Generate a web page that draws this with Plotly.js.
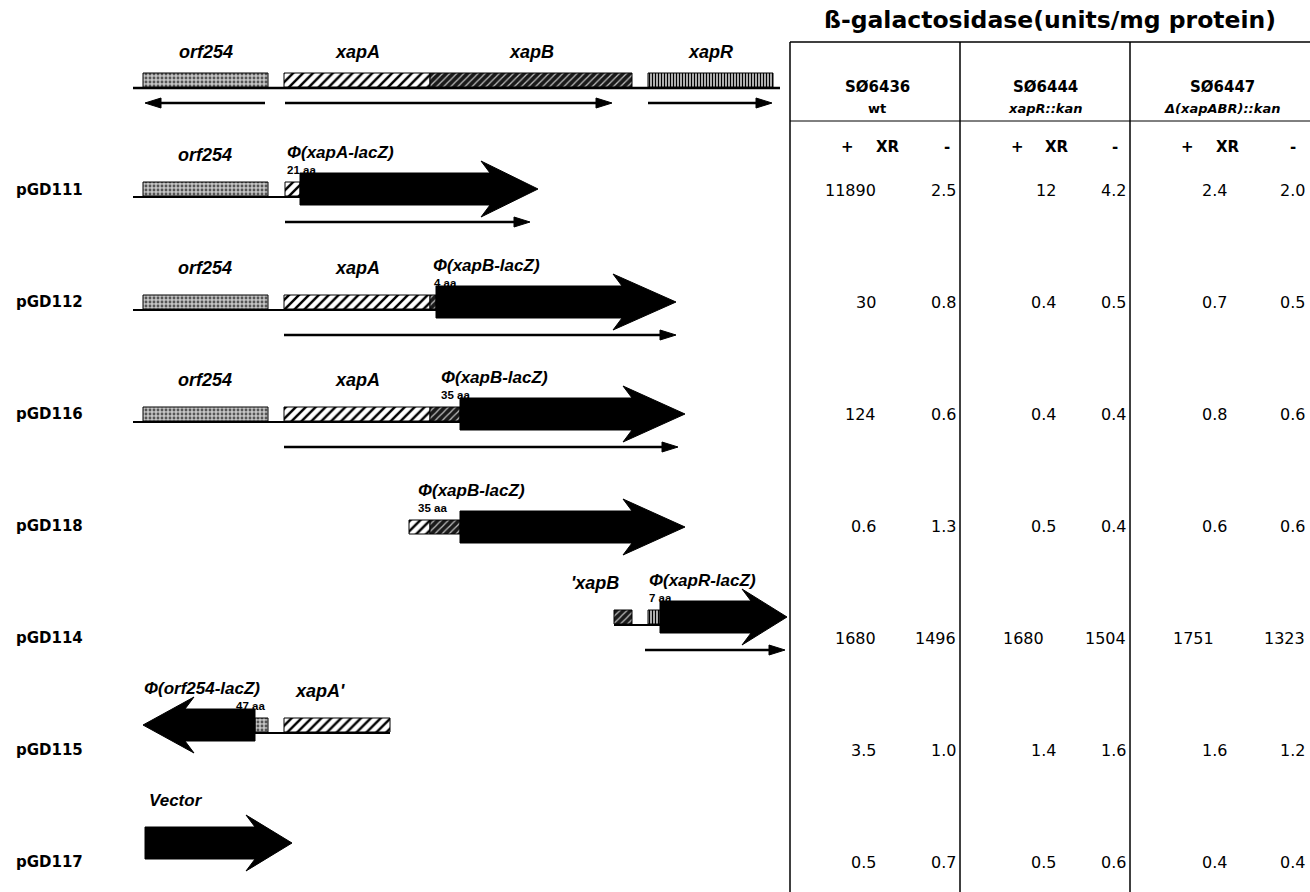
<!DOCTYPE html>
<html><head><meta charset="utf-8">
<script src="https://cdn.plot.ly/plotly-3.0.1.min.js"></script>
<style>html,body{margin:0;padding:0;background:#fff}#chart{width:1310px;height:892px}</style>
</head><body><div id="chart"></div>
<script>
// ---------------- data ----------------
// chromosomal map (map units along the drawing's x scale)
const mapGenes = ['orf254', 'xapA', 'xapB', 'xapR'];
const mapStart = [143, 284, 430, 648];
const mapEnd   = [268, 430, 632, 773];
const mapExtent = [133, 780];
const mapTranscriptFrom = [265, 285, 648];
const mapTranscriptTo   = [145, 612, 772];

// constructs
const constructs = ['pGD111', 'pGD112', 'pGD116', 'pGD118', 'pGD114', 'pGD115', 'pGD117'];
const fusionLabels = ['Φ(xapA-lacZ)', 'Φ(xapB-lacZ)', 'Φ(xapB-lacZ)', 'Φ(xapB-lacZ)', 'Φ(xapR-lacZ)', 'Φ(orf254-lacZ)', 'Vector'];
const fusionLengths = ['21 aa', '4 aa', '35 aa', '35 aa', '7 aa', '47 aa', ''];
const constructLineFrom = [133, 133, 133, null, 614, 255, null];
const constructLineTo   = [300, 436, 460, null, 660, 390, null];
const constructBoxGene  = [['orf254', 'xapA'], ['orf254', 'xapA', 'xapB'], ['orf254', 'xapA', 'xapB'], ['xapA', 'xapB'], ['xapB', 'xapR'], ['orf254', 'xapA'], []];
const constructBoxFrom  = [[143, 285], [143, 284, 430], [143, 284, 430], [409, 430], [614, 648], [255, 284], []];
const constructBoxTo    = [[268, 300], [268, 430, 436], [268, 430, 460], [430, 460], [632, 660], [268, 390], []];
const fusionFrom = [300, 436, 460, 460, 660, 255, 145];
const fusionTo   = [538, 676, 685, 685, 787, 143, 292];
const transcriptFrom = [285, 284, 284, null, 645, null, null];
const transcriptTo   = [530, 676, 678, null, 785, null, null];
const geneLabelText = [['orf254'], ['orf254', 'xapA'], ['orf254', 'xapA'], [], ["'xapB"], ["xapA'"], []];
const geneLabelAt   = [[205], [205, 357], [205, 357], [], [595], [320], []];

// beta-galactosidase table
const tableTitle = 'ß-galactosidase(units/mg protein)';
const strains = ['SØ6436', 'SØ6444', 'SØ6447'];
const genotypes = ['wt', 'xapR::kan', 'Δ(xapABR)::kan'];
const conditions = ['+', 'XR', '-'];
const wtPlus    = ['11890', '30', '124', '0.6', '1680', '3.5', '0.5'];
const wtMinus   = ['2.5', '0.8', '0.6', '1.3', '1496', '1.0', '0.7'];
const xapRPlus  = ['12', '0.4', '0.4', '0.5', '1680', '1.4', '0.5'];
const xapRMinus = ['4.2', '0.5', '0.4', '0.4', '1504', '1.6', '0.6'];
const delPlus   = ['2.4', '0.7', '0.8', '0.6', '1751', '1.6', '0.4'];
const delMinus  = ['2.0', '0.5', '0.6', '0.6', '1323', '1.2', '0.4'];

// ---------------- layout / style config ----------------
const W = 1310, H = 892;
const mapCy = 80;
const rowCy = [189, 302, 414, 527, 617, 725, 843];
const headLen = [48, 54, 53, 53, 36, 42, 37];
const rowLabelY = constructs.map((_, i) => 190 + 112 * i);
const boxHalf = 7, bodyHalf = 16, headHalf = 28, barb = 9;
const tHead = 16, tHalf = 5;
const fusionLabelX = [286, 432, 440, 417, 648, 143, 148];
const aaLabelX     = [286, 433, 440, 417, 648, 235, null];
const labelGap = [-26, -26, -26, -26, -26, -26, -32];

const geneStyle = {
  orf254: {shape: '.', bgcolor: '#c4c4c4', fgcolor: '#555', size: 4, solidity: 0.4},
  xapA:   {shape: '/', bgcolor: '#ffffff', fgcolor: '#000', size: 7, solidity: 0.35},
  xapB:   {shape: '/', bgcolor: '#1a1a1a', fgcolor: '#bdbdbd', size: 5, solidity: 0.25},
  xapR:   {shape: '|', bgcolor: '#ffffff', fgcolor: '#000', size: 3, solidity: 0.55}
};

const LBL = 'Liberation Sans, Arial, sans-serif';
const TBL = 'DejaVu Sans, Verdana, sans-serif';

const traces = [];
const annotations = [];
const shapes = [];

function hline(x0, x1, y, w) {
  traces.push({x: [x0, x1], y: [y, y], mode: 'lines', line: {color: '#000', width: w || 2}, hoverinfo: 'skip', showlegend: false});
}
function box(gene, x0, x1, cy) {
  const y0 = cy - boxHalf, y1 = cy + boxHalf;
  traces.push({x: [x0, x1, x1, x0, x0], y: [y0, y0, y1, y1, y0], mode: 'lines', fill: 'toself',
    fillcolor: geneStyle[gene].bgcolor, fillpattern: geneStyle[gene],
    line: {color: '#000', width: 1}, hoverinfo: 'skip', showlegend: false});
}
function bigArrow(x0, x1, cy, hl) {
  const d = x1 > x0 ? 1 : -1;
  const xh = x1 - d * hl;
  const xs = [x0, xh, xh - d * barb, x1, xh - d * barb, xh, x0, x0];
  const ys = [cy - bodyHalf, cy - bodyHalf, cy - headHalf, cy, cy + headHalf, cy + bodyHalf, cy + bodyHalf, cy - bodyHalf];
  traces.push({x: xs, y: ys, mode: 'lines', fill: 'toself', fillcolor: '#000',
    line: {color: '#000', width: 1}, hoverinfo: 'skip', showlegend: false});
}
function thinArrow(x0, x1, y) {
  const d = x1 > x0 ? 1 : -1;
  const xb = x1 - d * tHead;
  hline(x0, xb + d * 2, y, 2.5);
  traces.push({x: [xb, x1, xb, xb], y: [y - tHalf, y, y + tHalf, y - tHalf], mode: 'lines', fill: 'toself',
    fillcolor: '#000', line: {color: '#000', width: 1}, hoverinfo: 'skip', showlegend: false});
}
function text(t, x, y, size, font, xanchor, yanchor) {
  annotations.push({text: t, x: x, y: y, xref: 'x', yref: 'y', showarrow: false, borderpad: 0,
    xanchor: xanchor || 'center', yanchor: yanchor || 'middle', font: {family: font, size: size, color: '#000'}});
}

// ---- chromosomal map ----
hline(mapExtent[0], mapExtent[1], mapCy + boxHalf + 1, 2.5);
mapGenes.forEach((g, i) => {
  box(g, mapStart[i], mapEnd[i], mapCy);
  text('<b><i>' + g + '</i></b>', (mapStart[i] + mapEnd[i]) / 2, mapCy - 28, 18, LBL);
});
mapTranscriptFrom.forEach((x0, i) => thinArrow(x0, mapTranscriptTo[i], mapCy + 23));

// ---- constructs ----
constructs.forEach((c, i) => {
  const cy = rowCy[i];
  if (constructLineFrom[i] !== null) hline(constructLineFrom[i], constructLineTo[i], cy + boxHalf + 1);
  constructBoxGene[i].forEach((g, j) => box(g, constructBoxFrom[i][j], constructBoxTo[i][j], cy));
  bigArrow(fusionFrom[i], fusionTo[i], cy, headLen[i]);
  if (transcriptFrom[i] !== null) thinArrow(transcriptFrom[i], transcriptTo[i], cy + 33);
  geneLabelText[i].forEach((t, j) => text('<b><i>' + t + '</i></b>', geneLabelAt[i][j], cy - 34, 18, LBL));
  text('<b><i>' + fusionLabels[i] + '</i></b>', fusionLabelX[i], cy + labelGap[i], 17, LBL, 'left', 'bottom');
  if (fusionLengths[i]) text('<b>' + fusionLengths[i] + '</b>', aaLabelX[i], cy + labelGap[i], 11.5, LBL, 'left', 'top');
  text('<b>' + c + '</b>', 15, rowLabelY[i], 15, TBL, 'left');
});

// ---- table ----
const tLeft = 790, tTop = 42, colLines = [960, 1130], hdrLine = 121;
const lineStyle = {color: '#000', width: 1.5};
shapes.push({type: 'line', xref: 'x', yref: 'y', x0: tLeft, x1: W, y0: tTop, y1: tTop, line: lineStyle});
shapes.push({type: 'line', xref: 'x', yref: 'y', x0: tLeft, x1: W, y0: hdrLine, y1: hdrLine, line: {color: '#000', width: 1}});
[tLeft].concat(colLines).forEach(x => shapes.push({type: 'line', xref: 'x', yref: 'y', x0: x, x1: x, y0: tTop, y1: H, line: lineStyle}));
text('<b>' + tableTitle + '</b>', 1050, 20, 23.5, TBL);

const strainX = [877, 1045, 1222];
const condX = [[847, 888, 947], [1017, 1057, 1115], [1187, 1228, 1293]];
const plusRight = [877, 1057, 1228];
const minusRight = [957, 1127, 1306];
const bigShift = [0, 12, 13];
const plusCols = [wtPlus, xapRPlus, delPlus];
const minusCols = [wtMinus, xapRMinus, delMinus];
strains.forEach((s, k) => {
  text('<b>' + s + '</b>', strainX[k], 87, 15, TBL);
  text(k === 0 ? '<b>' + genotypes[k] + '</b>' : '<b><i>' + genotypes[k] + '</i></b>', strainX[k], 108, 13, TBL);
  conditions.forEach((cnd, m) => text('<b>' + cnd + '</b>', condX[k][m], 147, 15, TBL));
  constructs.forEach((_, i) => {
    const pv = plusCols[k][i];
    const shift = parseFloat(pv) >= 1000 ? bigShift[k] : 0;
    text(pv, plusRight[k] - shift, rowLabelY[i], 16, TBL, 'right');
    text(minusCols[k][i], minusRight[k], rowLabelY[i], 16, TBL, 'right');
  });
});

const layout = {
  width: W, height: H, margin: {l: 0, r: 0, t: 0, b: 0},
  paper_bgcolor: '#fff', plot_bgcolor: '#fff', showlegend: false,
  xaxis: {range: [0, W], visible: false, fixedrange: true},
  yaxis: {range: [H, 0], visible: false, fixedrange: true},
  annotations: annotations, shapes: shapes
};
Plotly.newPlot('chart', traces, layout, {displayModeBar: false, staticPlot: true});
</script>
</body></html>
